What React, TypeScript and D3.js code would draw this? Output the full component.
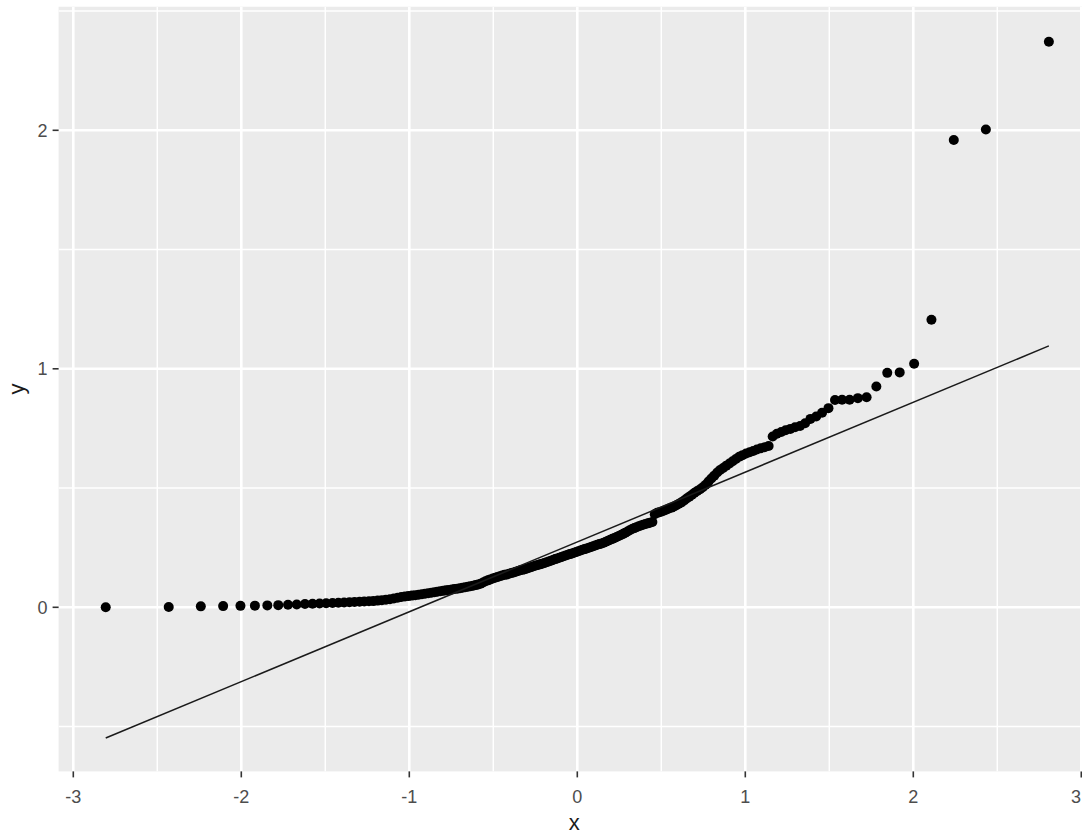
import React from 'react';
import * as d3 from 'd3';

// Theoretical normal quantiles (x) and sorted sample values (y)
const theoretical = [
  -2.807, -2.432, -2.241, -2.108, -2.005, -1.919, -1.845, -1.780, -1.722, -1.670,
  -1.621, -1.576, -1.534, -1.495, -1.457, -1.422, -1.388, -1.356, -1.326, -1.296,
  -1.268, -1.240, -1.214, -1.188, -1.163, -1.139, -1.115, -1.092, -1.069, -1.047,
  -1.026, -1.005, -0.984, -0.964, -0.944, -0.925, -0.906, -0.887, -0.868, -0.850,
  -0.833, -0.815, -0.798, -0.781, -0.764, -0.747, -0.731, -0.714, -0.698, -0.683,
  -0.667, -0.651, -0.636, -0.620, -0.605, -0.590, -0.576, -0.561, -0.546, -0.532,
  -0.518, -0.503, -0.489, -0.475, -0.461, -0.447, -0.433, -0.420, -0.406, -0.392,
  -0.379, -0.366, -0.352, -0.339, -0.326, -0.312, -0.299, -0.286, -0.273, -0.260,
  -0.247, -0.234, -0.222, -0.209, -0.196, -0.183, -0.170, -0.157, -0.145, -0.132,
  -0.119, -0.107, -0.094, -0.082, -0.069, -0.056, -0.044, -0.031, -0.019, -0.006,
  0.006, 0.019, 0.031, 0.044, 0.056, 0.069, 0.082, 0.094, 0.107, 0.119,
  0.132, 0.145, 0.157, 0.170, 0.183, 0.196, 0.209, 0.222, 0.234, 0.247,
  0.260, 0.273, 0.286, 0.299, 0.312, 0.326, 0.339, 0.352, 0.366, 0.379,
  0.392, 0.406, 0.420, 0.433, 0.447, 0.461, 0.475, 0.489, 0.503, 0.518,
  0.532, 0.546, 0.561, 0.576, 0.590, 0.605, 0.620, 0.636, 0.651, 0.667,
  0.683, 0.698, 0.714, 0.731, 0.747, 0.764, 0.781, 0.798, 0.815, 0.833,
  0.850, 0.868, 0.887, 0.906, 0.925, 0.944, 0.964, 0.984, 1.005, 1.026,
  1.047, 1.069, 1.092, 1.115, 1.139, 1.163, 1.188, 1.214, 1.240, 1.268,
  1.296, 1.326, 1.356, 1.388, 1.422, 1.457, 1.495, 1.534, 1.576, 1.621,
  1.670, 1.722, 1.780, 1.845, 1.919, 2.005, 2.108, 2.241, 2.432, 2.807,
];

const sample = [
  0.000, 0.001, 0.004, 0.005, 0.006, 0.007, 0.008, 0.009, 0.011, 0.012,
  0.014, 0.015, 0.016, 0.017, 0.018, 0.019, 0.020, 0.021, 0.022, 0.023,
  0.024, 0.025, 0.026, 0.028, 0.030, 0.032, 0.034, 0.037, 0.040, 0.043,
  0.045, 0.047, 0.049, 0.051, 0.053, 0.055, 0.057, 0.059, 0.061, 0.063,
  0.065, 0.067, 0.069, 0.071, 0.073, 0.075, 0.077, 0.078, 0.080, 0.082,
  0.084, 0.086, 0.088, 0.090, 0.093, 0.096, 0.099, 0.104, 0.109, 0.113,
  0.117, 0.121, 0.124, 0.127, 0.130, 0.133, 0.136, 0.138, 0.141, 0.144,
  0.146, 0.149, 0.152, 0.155, 0.157, 0.160, 0.163, 0.166, 0.169, 0.172,
  0.175, 0.177, 0.180, 0.183, 0.186, 0.189, 0.192, 0.195, 0.198, 0.202,
  0.205, 0.208, 0.211, 0.214, 0.217, 0.220, 0.223, 0.226, 0.229, 0.232,
  0.235, 0.238, 0.241, 0.244, 0.247, 0.250, 0.253, 0.256, 0.259, 0.262,
  0.265, 0.268, 0.271, 0.275, 0.279, 0.283, 0.287, 0.291, 0.295, 0.299,
  0.303, 0.308, 0.313, 0.318, 0.323, 0.328, 0.332, 0.336, 0.340, 0.343,
  0.346, 0.349, 0.352, 0.355, 0.358, 0.390, 0.396, 0.399, 0.402, 0.406,
  0.410, 0.414, 0.418, 0.423, 0.428, 0.434, 0.440, 0.448, 0.456, 0.464,
  0.472, 0.480, 0.488, 0.495, 0.503, 0.514, 0.527, 0.540, 0.552, 0.565,
  0.576, 0.584, 0.594, 0.603, 0.612, 0.622, 0.631, 0.638, 0.645, 0.650,
  0.655, 0.662, 0.667, 0.671, 0.676, 0.716, 0.728, 0.735, 0.742, 0.748,
  0.755, 0.760, 0.772, 0.790, 0.800, 0.816, 0.835, 0.869, 0.870, 0.870,
  0.877, 0.881, 0.926, 0.983, 0.985, 1.021, 1.206, 1.959, 2.003, 2.371,
];

// Reference line (qq line) end points
const lineX = [-2.807, 2.807];
const lineY = [-0.548, 1.096];

const xTicks = [-3, -2, -1, 0, 1, 2, 3];
const yTicks = [0, 1, 2];
const xMinor = [-2.5, -1.5, -0.5, 0.5, 1.5, 2.5];
const yMinor = [-0.5, 0.5, 1.5, 2.5];

export default function App() {
  const W = 1082;
  const H = 834;
  const x = d3.scaleLinear().domain([-3, 3]).range([73.3, 1081.3]);
  const y = d3.scaleLinear().domain([0, 2]).range([607.3, 130.3]);

  const pLeft = x(-3.0875);
  const pRight = x(3.0875);
  const pTop = y(2.518);
  const pBottom = y(-0.688);

  const line = d3
    .line<number>()
    .x((d) => x(d))
    .y((_, i) => y(lineY[i]));

  const font = '"Liberation Sans", Arial, Helvetica, sans-serif';

  return (
    <svg
      width={W}
      height={H}
      style={{ position: 'absolute', left: 0, top: 0, background: '#ffffff' }}
    >
      <defs>
        <clipPath id="panel">
          <rect x={pLeft} y={pTop} width={pRight - pLeft} height={pBottom - pTop} />
        </clipPath>
      </defs>
      <rect x={pLeft} y={pTop} width={pRight - pLeft} height={pBottom - pTop} fill="#EBEBEB" />
      <g clipPath="url(#panel)">
        {xMinor.map((v) => (
          <line key={'xm' + v} x1={x(v)} x2={x(v)} y1={pTop} y2={pBottom} stroke="#ffffff" strokeWidth={1.5} />
        ))}
        {yMinor.map((v) => (
          <line key={'ym' + v} x1={pLeft} x2={pRight} y1={y(v)} y2={y(v)} stroke="#ffffff" strokeWidth={1.5} />
        ))}
        {xTicks.map((v) => (
          <line key={'xg' + v} x1={x(v)} x2={x(v)} y1={pTop} y2={pBottom} stroke="#ffffff" strokeWidth={2.6} />
        ))}
        {yTicks.map((v) => (
          <line key={'yg' + v} x1={pLeft} x2={pRight} y1={y(v)} y2={y(v)} stroke="#ffffff" strokeWidth={2.6} />
        ))}
        {sample.map((v, i) => (
          <circle key={'p' + i} cx={x(theoretical[i])} cy={y(v)} r={5} fill="#000000" />
        ))}
        <path d={line(lineX) || ''} fill="none" stroke="#1a1a1a" strokeWidth={1.5} />
      </g>

      {/* x axis ticks and labels */}
      {xTicks.map((v) => (
        <g key={'xt' + v}>
          <line x1={x(v)} x2={x(v)} y1={pBottom} y2={pBottom + 6} stroke="#333333" strokeWidth={1.6} />
          <text
            x={Math.min(x(v), W - 6)}
            y={pBottom + 32}
            textAnchor="middle"
            fontFamily={font}
            fontSize={18}
            fill="#4D4D4D"
          >
            {v < 0 ? '-' + Math.abs(v) : String(v)}
          </text>
        </g>
      ))}

      {/* y axis ticks and labels */}
      {yTicks.map((v) => (
        <g key={'yt' + v}>
          <line x1={pLeft - 6} x2={pLeft} y1={y(v)} y2={y(v)} stroke="#333333" strokeWidth={1.6} />
          <text
            x={pLeft - 11}
            y={y(v) + 6.5}
            textAnchor="end"
            fontFamily={font}
            fontSize={18}
            fill="#4D4D4D"
          >
            {String(v)}
          </text>
        </g>
      ))}

      {/* axis titles */}
      <text
        x={(pLeft + x(3.0875)) / 2 - 3}
        y={830}
        textAnchor="middle"
        fontFamily={font}
        fontSize={22}
        fill="#1a1a1a"
      >
        x
      </text>
      <text
        transform={`translate(24, ${(pTop + pBottom) / 2}) rotate(-90)`}
        textAnchor="middle"
        fontFamily={font}
        fontSize={22}
        fill="#1a1a1a"
      >
        y
      </text>
    </svg>
  );
}
